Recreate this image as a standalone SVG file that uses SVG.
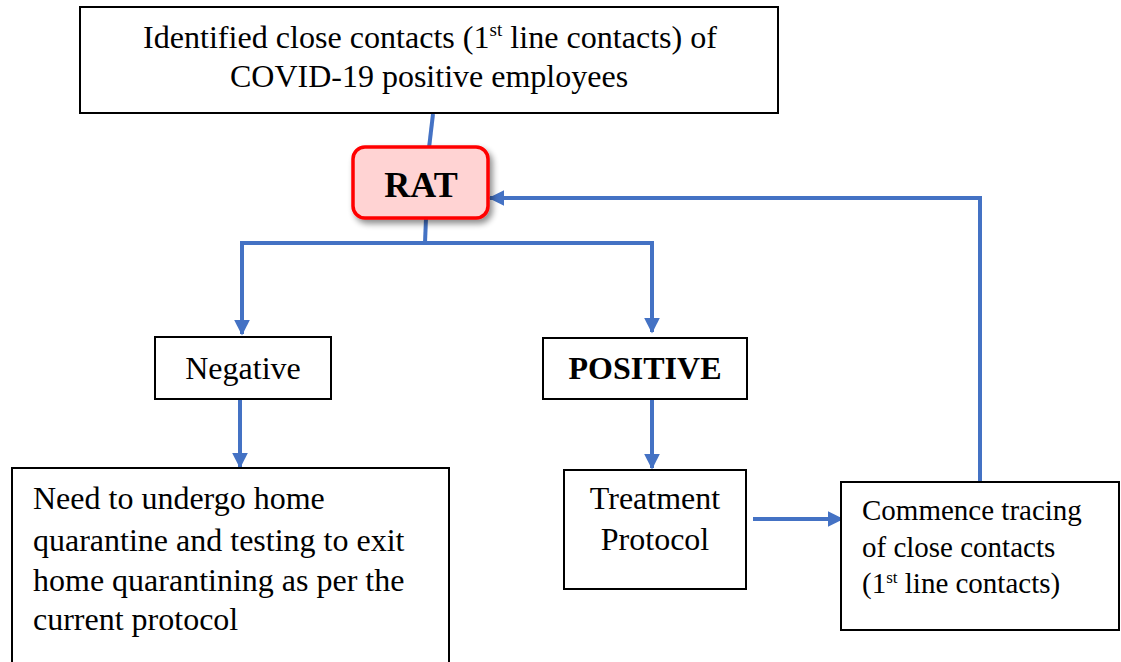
<svg xmlns="http://www.w3.org/2000/svg" width="1121" height="662" viewBox="0 0 1121 662">
  <style>
    .box { fill: #ffffff; stroke: #000000; stroke-width: 2; }
    .t { font-family: "Liberation Serif", "Times New Roman", serif; font-size: 32px; fill: #000000; }
    .b { font-weight: bold; }
    .sm { font-size: 29px; }
    .big { font-size: 36px; }
    .link { fill: none; stroke: #4472C4; stroke-width: 4; }
  </style>
  <defs>
    <marker id="arrow" viewBox="0 0 10 10" refX="9" refY="5" markerWidth="4" markerHeight="4" orient="auto" markerUnits="strokeWidth">
      <path d="M0,0 L10,5 L0,10 Z" fill="#4472C4"/>
    </marker>
    <filter id="shadow" x="-20%" y="-20%" width="150%" height="150%">
      <feGaussianBlur in="SourceAlpha" stdDeviation="3"/>
      <feOffset dx="3" dy="4" result="o"/>
      <feComponentTransfer><feFuncA type="linear" slope="0.45"/></feComponentTransfer>
      <feMerge><feMergeNode/><feMergeNode in="SourceGraphic"/></feMerge>
    </filter>
  </defs>
  <rect width="1121" height="662" fill="#ffffff"/>

  <g id="connectors">
    <line class="link" x1="433" y1="114" x2="429" y2="148"/>
    <line class="link" x1="426" y1="218" x2="425" y2="243"/>
    <polyline class="link" points="242,243 652,243"/>
    <polyline class="link" points="242,241 242,334" marker-end="url(#arrow)"/>
    <polyline class="link" points="652,241 652,332" marker-end="url(#arrow)"/>
    <line class="link" x1="240" y1="399" x2="240" y2="467" marker-end="url(#arrow)"/>
    <line class="link" x1="652" y1="399" x2="652" y2="468" marker-end="url(#arrow)"/>
    <line class="link" x1="753" y1="519" x2="842" y2="519" marker-end="url(#arrow)"/>
    <polyline class="link" points="980,482 980,198 490,198" marker-end="url(#arrow)"/>
  </g>

  <g id="identified">
    <rect class="box" x="80" y="7" width="698" height="106"/>
    <text class="t" x="430" y="48" text-anchor="middle" textLength="574" lengthAdjust="spacingAndGlyphs">Identified close contacts (1<tspan style="font-size:19px" dy="-12">st</tspan><tspan dy="12"> line contacts) of</tspan></text>
    <text class="t" x="429" y="87" text-anchor="middle">COVID-19 positive employees</text>
  </g>

  <g id="rat">
    <rect x="353" y="147" width="135" height="71" rx="12" ry="12" fill="#FFD3D3" stroke="#FF0000" stroke-width="3.5" filter="url(#shadow)"/>
    <text class="t b big" x="421" y="197" text-anchor="middle">RAT</text>
  </g>

  <g id="negative">
    <rect class="box" x="155" y="337" width="176" height="62"/>
    <text class="t" x="243" y="379" text-anchor="middle">Negative</text>
  </g>

  <g id="positive">
    <rect class="box" x="543" y="338" width="204" height="61"/>
    <text class="t b" x="645" y="379" text-anchor="middle">POSITIVE</text>
  </g>

  <g id="quarantine">
    <rect class="box" x="12" y="468" width="437" height="200"/>
    <text class="t" x="33" y="509">Need to undergo home</text>
    <text class="t" x="33" y="551">quarantine and testing to exit</text>
    <text class="t" x="33" y="591">home quarantining as per the</text>
    <text class="t" x="33" y="630">current protocol</text>
  </g>

  <g id="treatment">
    <rect class="box" x="564" y="470" width="182" height="119"/>
    <text class="t" x="655" y="509" text-anchor="middle">Treatment</text>
    <text class="t" x="655" y="550" text-anchor="middle">Protocol</text>
  </g>

  <g id="tracing">
    <rect class="box" x="841" y="482" width="278" height="148"/>
    <text class="t sm" x="862" y="520">Commence tracing</text>
    <text class="t sm" x="862" y="557">of close contacts</text>
    <text class="t sm" x="862" y="593">(1<tspan style="font-size:17px" dy="-10">st</tspan><tspan dy="10"> line contacts)</tspan></text>
  </g>
</svg>
